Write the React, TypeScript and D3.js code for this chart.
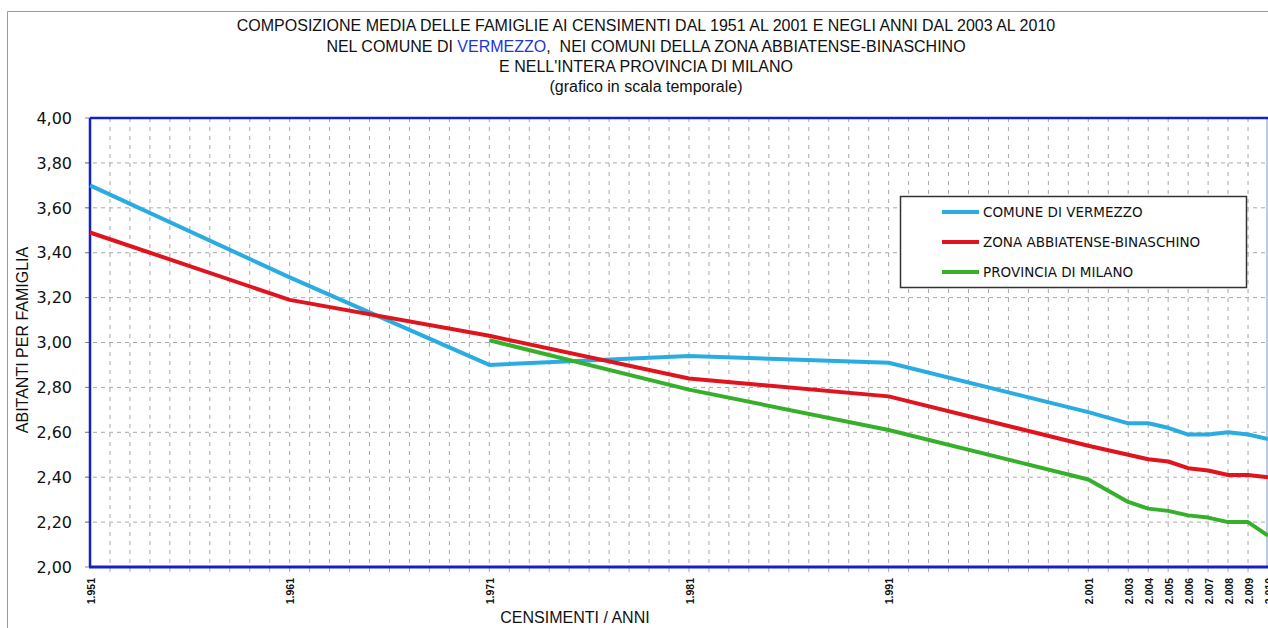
import React from "react";
import * as d3 from "d3";

const years = [1951, 1961, 1971, 1981, 1991, 2001, 2003, 2004, 2005, 2006, 2007, 2008, 2009, 2010];
const vermezzo = [3.70, 3.29, 2.90, 2.94, 2.91, 2.69, 2.64, 2.64, 2.62, 2.59, 2.59, 2.60, 2.59, 2.57];
const zona = [3.49, 3.19, 3.03, 2.84, 2.76, 2.54, 2.50, 2.48, 2.47, 2.44, 2.43, 2.41, 2.41, 2.40];
const provincia: (number | null)[] = [null, null, 3.01, 2.79, 2.61, 2.39, 2.29, 2.26, 2.25, 2.23, 2.22, 2.20, 2.20, 2.14];
const yTicks = [2.0, 2.2, 2.4, 2.6, 2.8, 3.0, 3.2, 3.4, 3.6, 3.8, 4.0];
const seriesNames = ["COMUNE DI VERMEZZO", "ZONA ABBIATENSE-BINASCHINO", "PROVINCIA DI MILANO"];
const seriesColors = ["#2aace2", "#e0141e", "#36b02a"];
const titleLines = [
  "COMPOSIZIONE MEDIA DELLE FAMIGLIE AI CENSIMENTI DAL 1951 AL 2001 E NEGLI ANNI DAL 2003 AL 2010",
  "E NELL'INTERA PROVINCIA DI MILANO",
  "(grafico in scala temporale)",
];

const W = 1268;
const H = 628;
const left = 90;
const right = 1268;
const top = 118;
const bottom = 567;

const locale = d3.formatLocale({ decimal: ",", thousands: ".", grouping: [3], currency: ["", ""] });
const fmtYear = locale.format(",d");
const fmtVal = locale.format(".2f");

const narrow = "'Liberation Sans Narrow', 'Arial Narrow', sans-serif";
const sans = "'DejaVu Sans', Verdana, sans-serif";

export default function App() {
  const x = d3.scaleLinear().domain([1951, 2010]).range([left, right]);
  const y = d3.scaleLinear().domain([2, 4]).range([bottom, top]);
  const allSeries = [vermezzo, zona, provincia];
  const line = d3
    .line<[number, number | null]>()
    .defined((d) => d[1] != null)
    .x((d) => x(d[0]))
    .y((d) => y(d[1] as number));
  const gridYears = d3.range(1952, 2010);

  return (
    <svg width={W} height={H} style={{ position: "absolute", left: 0, top: 0, background: "#fff" }}>
      {/* outer frame */}
      <line x1={7.5} y1={11.5} x2={W} y2={11.5} stroke="#9a9a9a" strokeWidth={1} />
      <line x1={7.5} y1={11.5} x2={7.5} y2={H} stroke="#9a9a9a" strokeWidth={1} />

      {/* title */}
      <g fontFamily={narrow} fontSize={16} fill="#111" textAnchor="middle">
        <text x={646} y={31}>{titleLines[0]}</text>
        <text x={646} y={52}>
          NEL COMUNE DI <tspan fill="#1f35d8">VERMEZZO</tspan>,{"\u00a0\u00a0"}NEI COMUNI DELLA ZONA ABBIATENSE-BINASCHINO
        </text>
        <text x={646} y={72}>{titleLines[1]}</text>
        <text x={646} y={92}>{titleLines[2]}</text>
      </g>

      {/* horizontal grid */}
      {yTicks.slice(1, -1).map((v) => (
        <line key={"h" + v} x1={85} x2={right} y1={y(v)} y2={y(v)} stroke="#a8a8a8" strokeWidth={1} strokeDasharray="4,4" />
      ))}
      {/* vertical grid */}
      {gridYears.map((yr) => (
        <line key={"v" + yr} x1={x(yr)} x2={x(yr)} y1={top} y2={bottom + 6} stroke="#a8a8a8" strokeWidth={1} strokeDasharray="4,5" />
      ))}

      {/* y tick labels */}
      <g fontFamily={sans} fontSize={16} fill="#111" textAnchor="end">
        {yTicks.map((v) => (
          <text key={"yt" + v} x={72} y={y(v)} dy="0.36em">{fmtVal(v)}</text>
        ))}
      </g>
      {yTicks.map((v) => (
        <line key={"yk" + v} x1={85} x2={left} y1={y(v)} y2={y(v)} stroke="#888" strokeWidth={1} />
      ))}

      {/* x tick labels */}
      <g fontFamily="'Liberation Sans', Arial, sans-serif" fontWeight="bold" fontSize={10.5} fill="#111" textAnchor="end">
        {years.map((yr) => (
          <text key={"xt" + yr} transform={`translate(${x(yr) + 1},578) rotate(-90)`} dy="0.36em">{fmtYear(yr)}</text>
        ))}
      </g>

      {/* plot border */}
      <line x1={right - 1} x2={right - 1} y1={top} y2={bottom} stroke="#a9b4e8" strokeWidth={1.5} />
      <line x1={left} x2={right} y1={top} y2={top} stroke="#1420c8" strokeWidth={2.5} />
      <line x1={left} x2={left} y1={top} y2={bottom} stroke="#1420c8" strokeWidth={2.5} />
      <line x1={left - 1} x2={right} y1={bottom} y2={bottom} stroke="#1420c8" strokeWidth={3} />

      {/* series */}
      {allSeries.map((s, i) => (
        <path
          key={"s" + i}
          d={line(years.map((yr, j) => [yr, s[j]] as [number, number | null])) || ""}
          fill="none"
          stroke={seriesColors[i]}
          strokeWidth={4}
          strokeLinejoin="round"
          strokeLinecap="butt"
        />
      ))}

      {/* legend */}
      <rect x={900.5} y={196.5} width={346} height={91} fill="#fff" stroke="#333" strokeWidth={1.5} />
      {seriesNames.map((n, i) => (
        <g key={"lg" + i}>
          <line x1={942} x2={979} y1={212 + i * 30} y2={212 + i * 30} stroke={seriesColors[i]} strokeWidth={4} />
          <text x={983} y={212 + i * 30} dy="0.36em" fontFamily={sans} fontSize={13.5} fill="#111">{n}</text>
        </g>
      ))}

      {/* axis titles */}
      <text x={575} y={623} textAnchor="middle" fontFamily={narrow} fontSize={16} fill="#111">CENSIMENTI / ANNI</text>
      <text transform="translate(28,340) rotate(-90)" textAnchor="middle" fontFamily={narrow} fontSize={16} fill="#111">ABITANTI PER FAMIGLIA</text>
    </svg>
  );
}
